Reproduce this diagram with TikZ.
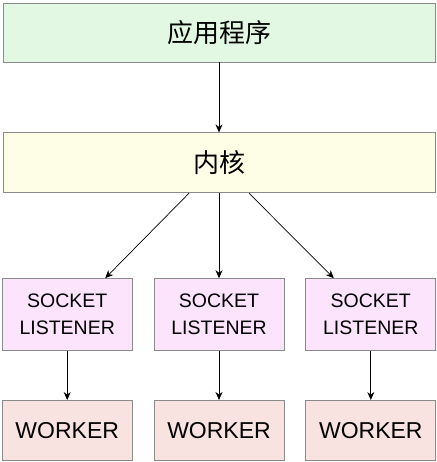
\documentclass[tikz,border=0pt]{standalone}
\usepackage{fontspec}
\setmainfont{Liberation Sans}
\newfontfamily\cjk{Noto Sans CJK SC}
\usetikzlibrary{arrows.meta, positioning}
\definecolor{appgreen}{HTML}{E3F8E3}
\definecolor{kernyellow}{HTML}{FEFEE6}
\definecolor{sockpink}{HTML}{FCE4FC}
\definecolor{workred}{HTML}{F9E3E1}
\definecolor{boxline}{HTML}{8A8A8A}

\begin{document}
\begin{tikzpicture}[x=1pt,y=1pt,node distance=49pt,>={Stealth[length=8pt,width=7pt]}]
        \tikzstyle{box}=[rectangle,draw=boxline,line width=0.8pt,inner sep=0pt]
        \tikzstyle{wide}=[box,minimum width=432pt,minimum height=59pt,font=\cjk\fontsize{26}{30}\selectfont]
        \tikzstyle{sock}=[box,fill=sockpink,minimum width=130pt,minimum height=72pt,align=center,font=\fontsize{19.5}{27}\selectfont]
        \tikzstyle{work}=[box,fill=workred,minimum width=130pt,minimum height=60pt,font=\fontsize{23}{27}\selectfont]
        \tikzstyle{link}=[->,line width=0.7pt]
        \useasboundingbox (0,0) rectangle (436,-462);
        \node[wide,fill=appgreen] (app) at (219,-32.5) {应用程序};
        \node[wide,fill=kernyellow,minimum height=60pt,below=70pt of app] (kern) {内核};
        \node[sock,below=85pt of kern] (sock2) {SOCKET\\LISTENER};
        \node[sock,left=21pt of sock2] (sock1) {SOCKET\\LISTENER};
        \node[sock,right=21pt of sock2] (sock3) {SOCKET\\LISTENER};
        \node[work,below=of sock1] (work1) {WORKER};
        \node[work,below=of sock2] (work2) {WORKER};
        \node[work,below=of sock3] (work3) {WORKER};
        \draw[link] (app)--(kern);
        \draw[link] ([xshift=-30pt]kern.south)--([xshift=38pt]sock1.north);
        \draw[link] (kern)--(sock2);
        \draw[link] ([xshift=30pt]kern.south)--([xshift=-37pt]sock3.north);
        \foreach \i in {1,2,3}
            \draw[link] (sock\i)--(work\i);
    \end{tikzpicture}
\end{document}
